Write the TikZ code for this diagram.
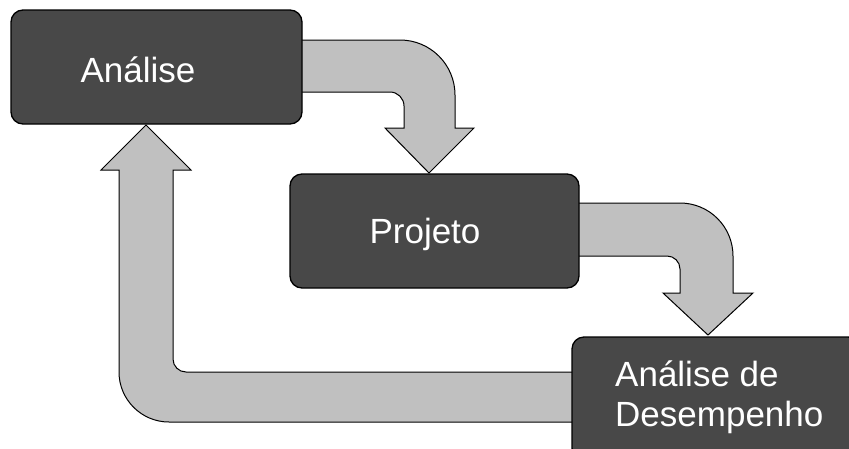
\documentclass[tikz,border=0pt]{standalone}
\usepackage{fontspec}
\setmainfont{Liberation Sans}
\definecolor{boxgray}{HTML}{484848}
\definecolor{flowgray}{HTML}{C0C0C0}
\begin{document}
\begin{tikzpicture}[x=1pt,y=-1pt,
  stage/.style={draw=black, line width=1.3pt, fill=boxgray, rounded corners=12pt, inner sep=0pt},
  flow/.style={draw=black, line width=1pt, fill=flowgray, line join=miter},
  lbl/.style={text=white, font=\fontsize{35}{40}\selectfont, inner sep=0pt}]
\useasboundingbox (0,0) rectangle (849,448);

% block arrows (drawn first, the boxes cover their tails)
\draw[flow] (295,40) -- (400,40) .. controls (430.4,40) and (455,64.6) .. (455,95)
  -- (455,128) -- (474,128) -- (429,173) -- (385,128) -- (404,128) -- (404,106)
  .. controls (404,98.3) and (397.7,92) .. (390,92) -- (295,92) -- cycle;
\draw[flow] (575,203) -- (680,203) .. controls (709.3,203) and (733,226.7) .. (733,256)
  -- (733,293) -- (753,293) -- (708,335) -- (663,293) -- (680,293) -- (680,269)
  .. controls (680,261.8) and (674.2,256) .. (667,256) -- (575,256) -- cycle;
\draw[flow] (580,372) -- (186,372) .. controls (178.8,372) and (173,366.2) .. (173,359)
  -- (173,170) -- (191,170) -- (146,125) -- (101,170) -- (119,170) -- (119,372)
  .. controls (119,399.6) and (141.4,422) .. (169,422) -- (580,422) -- cycle;

% stages
\node[stage, minimum width=291pt, minimum height=114pt] (analise) at (156.5,67) {};
\node[stage, minimum width=289pt, minimum height=114pt] (projeto) at (434.5,231) {};
\node[stage, minimum width=288pt, minimum height=123pt] (desemp) at (716,398.5) {};

% labels
\node[lbl, anchor=base] (t1) at (138,82) {Análise};
\node[lbl, anchor=base] (t2) at (425,243) {Projeto};
\node[lbl, anchor=base west] (t3a) at (615,386) {Análise de};
\node[lbl, anchor=base west] (t3b) at (615,426) {Desempenho};
\end{tikzpicture}
\end{document}
